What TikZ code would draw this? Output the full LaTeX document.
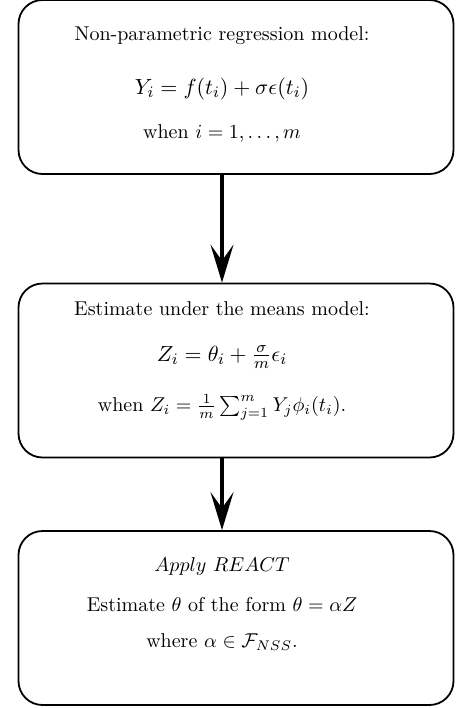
\documentclass[tikz,border=0pt]{standalone}
\usepackage{tikz}
\usetikzlibrary{arrows.meta,positioning,calc}

\begin{document}
\begin{tikzpicture}[
    x=0.5pt, y=-0.5pt,
    stage/.style={draw, rounded corners=12pt, line width=0.9pt, minimum width=217.5pt, minimum height=87pt},
    body/.style={align=center, inner sep=0pt},
    flow/.style={-{Stealth[length=19pt, width=11.5pt, inset=8pt]}, line width=1.8pt},
  ]
  \useasboundingbox (0,0) rectangle (462,708);

  \node[stage] (model) at (236,87) {};
  \node[stage] (means) at (236,370.5) {};
  \node[stage] (react) at (236,618) {};

  \node[body] (modeltxt) at (222,84) {Non-parametric regression model:\\[15pt]
    {\fontsize{11}{13}\selectfont $Y_i = f(t_i) + \sigma\epsilon(t_i)$}\\[10pt]
    when $i = 1,\ldots,m$};
  \node[body] (meanstxt) at (222,361) {Estimate under the means model:\\[11pt]
    {\fontsize{11}{13}\selectfont $Z_i = \theta_i + \frac{\sigma}{m}\epsilon_i$}\\[12pt]
    when $Z_i = \frac{1}{m}\sum_{j=1}^{m} Y_j\phi_i(t_i)$.};
  \node[body] (reacttxt) at (222,604) {$Apply\ REACT$\\[8pt]
    Estimate $\theta$ of the form $\theta = \alpha Z$\\[6pt]
    where $\alpha \in \mathcal{F}_{NSS}$.};

  \draw[flow] (model.south -| modeltxt) -- (means.north -| modeltxt);
  \draw[flow] (means.south -| meanstxt) -- (react.north -| reacttxt);
\end{tikzpicture}
\end{document}
